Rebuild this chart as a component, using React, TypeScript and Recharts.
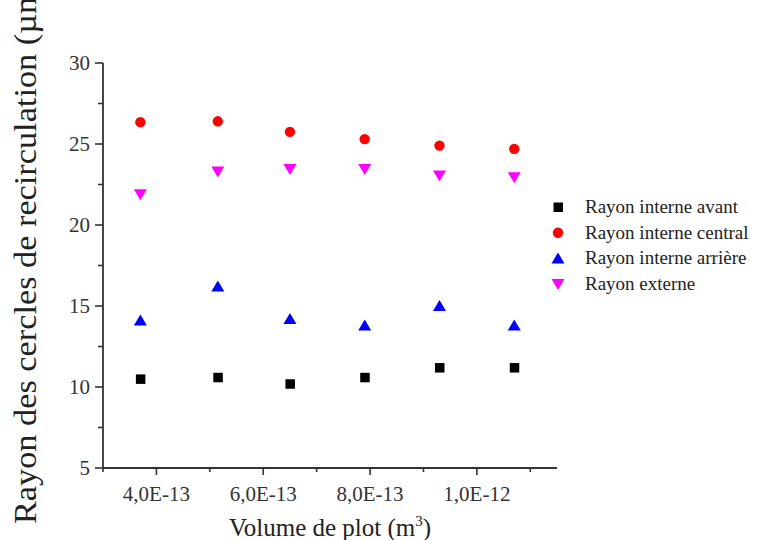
import React from 'react';
import { ScatterChart, Scatter, XAxis, YAxis, Legend, Label } from 'recharts';

// ---- data ----
const volumes = [3.7e-13, 5.15e-13, 6.5e-13, 7.9e-13, 9.3e-13, 10.7e-13];
const rayonInterneAvant = [10.5, 10.6, 10.2, 10.6, 11.2, 11.2];
const rayonInterneCentral = [26.35, 26.4, 25.75, 25.3, 24.9, 24.7];
const rayonInterneArriere = [14.1, 16.2, 14.2, 13.8, 15.0, 13.8];
const rayonExterne = [21.9, 23.3, 23.45, 23.45, 23.05, 22.95];

const seriesNames = ['Rayon interne avant', 'Rayon interne central', 'Rayon interne arrière', 'Rayon externe'];
const seriesColors = ['#000000', '#ff0000', '#0000ff', '#ff00ff'];

const xTicks = [3e-13, 4e-13, 5e-13, 6e-13, 7e-13, 8e-13, 9e-13, 1e-12, 1.1e-12];
const xTickLabels = ['', '4,0E-13', '', '6,0E-13', '', '8,0E-13', '', '1,0E-12', ''];
const yTicks = [5, 7.5, 10, 12.5, 15, 17.5, 20, 22.5, 25, 27.5, 30];
const yTickLabels = ['5', '', '10', '', '15', '', '20', '', '25', '', '30'];

const xTitle = 'Volume de plot (m';
const xTitleSup = '3';
const yTitle = 'Rayon des cercles de recirculation (µm)';

const FONT = '"Liberation Serif", "Times New Roman", serif';
const AXIS = '#333';

const toPoints = (vals: number[]) => volumes.map((v, i) => ({ x: v, y: vals[i] }));
const seriesData = [rayonInterneAvant, rayonInterneCentral, rayonInterneArriere, rayonExterne].map(toPoints);

// ---- marker shapes ----
const drawMarker = (kind: number, cx: number, cy: number, fill: string) => {
  if (kind === 0) return <rect x={cx - 4.5} y={cy - 4.5} width={9.5} height={9.5} fill={fill} />;
  if (kind === 1) return <circle cx={cx} cy={cy} r={5.2} fill={fill} />;
  if (kind === 2)
    return <polygon points={`${cx},${cy - 6} ${cx + 6.5},${cy + 5} ${cx - 6.5},${cy + 5}`} fill={fill} />;
  return <polygon points={`${cx},${cy + 6} ${cx + 6.5},${cy - 5} ${cx - 6.5},${cy - 5}`} fill={fill} />;
};

const makeShape = (kind: number) => (props: any) => drawMarker(kind, props.cx, props.cy, seriesColors[kind]);

// ---- ticks ----
const XTick = (props: any) => {
  const { x, y, index } = props;
  const label = xTickLabels[index];
  return (
    <g>
      <line x1={x} x2={x} y1={y} y2={y + (label ? 7 : 4)} stroke={AXIS} strokeWidth={1.6} />
      {label ? (
        <text x={x} y={y + 33} textAnchor="middle" fontSize={21} fill={AXIS} fontFamily={FONT}>
          {label}
        </text>
      ) : null}
    </g>
  );
};

const YTick = (props: any) => {
  const { x, y, index } = props;
  const label = yTickLabels[index];
  return (
    <g>
      <line x1={x - (label ? 8 : 5)} x2={x} y1={y} y2={y} stroke={AXIS} strokeWidth={1.6} />
      {label ? (
        <text x={x - 13} y={y + 7} textAnchor="end" fontSize={21} fill={AXIS} fontFamily={FONT}>
          {label}
        </text>
      ) : null}
    </g>
  );
};

const renderYTitle = () => (
  <text
    x={36}
    y={524}
    transform="rotate(-90 36 524)"
    textAnchor="start"
    fontSize={32}
    fill="#222"
    fontFamily={FONT}
    textLength={548}
    lengthAdjust="spacingAndGlyphs"
  >
    {yTitle}
  </text>
);

const renderXTitle = () => (
  <text x={330} y={536} textAnchor="middle" fontSize={25} fill="#222" fontFamily={FONT}>
    {xTitle}
    <tspan fontSize={15} dy={-10}>{xTitleSup}</tspan>
    <tspan dy={10}>)</tspan>
  </text>
);

const renderLegend = () => (
  <svg width={214} height={110} style={{ display: 'block' }}>
    {seriesNames.map((name, i) => {
      const cy = 17 + i * 25.7;
      return (
        <g key={name}>
          {drawMarker(i, 13, cy, seriesColors[i])}
          <text x={40} y={cy + 6} fontSize={19} fill="#222" fontFamily={FONT}>
            {name}
          </text>
        </g>
      );
    })}
  </svg>
);

export default function App() {
  return (
    <div style={{ position: 'absolute', left: 0, top: 0, width: 759, height: 540, background: '#fff' }}>
      <ScatterChart width={759} height={540} margin={{ top: 63, right: 202, bottom: 0, left: 0 }}>
        <XAxis
          type="number"
          dataKey="x"
          domain={[3e-13, 1.15e-12]}
          ticks={xTicks}
          interval={0}
          tickSize={0}
          tickMargin={0}
          tick={XTick}
          height={72}
          axisLine={{ stroke: AXIS, strokeWidth: 1.8 }}
          tickLine={false}
          allowDataOverflow
        >
          <Label content={renderXTitle} />
        </XAxis>
        <YAxis
          type="number"
          dataKey="y"
          domain={[5, 30]}
          ticks={yTicks}
          interval={0}
          tickSize={0}
          tickMargin={0}
          tick={YTick}
          width={103}
          axisLine={{ stroke: AXIS, strokeWidth: 1.8 }}
          tickLine={false}
          allowDataOverflow
        >
          <Label content={renderYTitle} />
        </YAxis>
        <Legend
          layout="vertical"
          align="center"
          verticalAlign="middle"
          content={renderLegend}
          wrapperStyle={{ left: 545, top: 190, width: 214, height: 110 }}
        />
        {seriesNames.map((name, i) => (
          <Scatter
            key={name}
            name={name}
            data={seriesData[i]}
            fill={seriesColors[i]}
            shape={makeShape(i)}
            isAnimationActive={false}
          />
        ))}
      </ScatterChart>
    </div>
  );
}
